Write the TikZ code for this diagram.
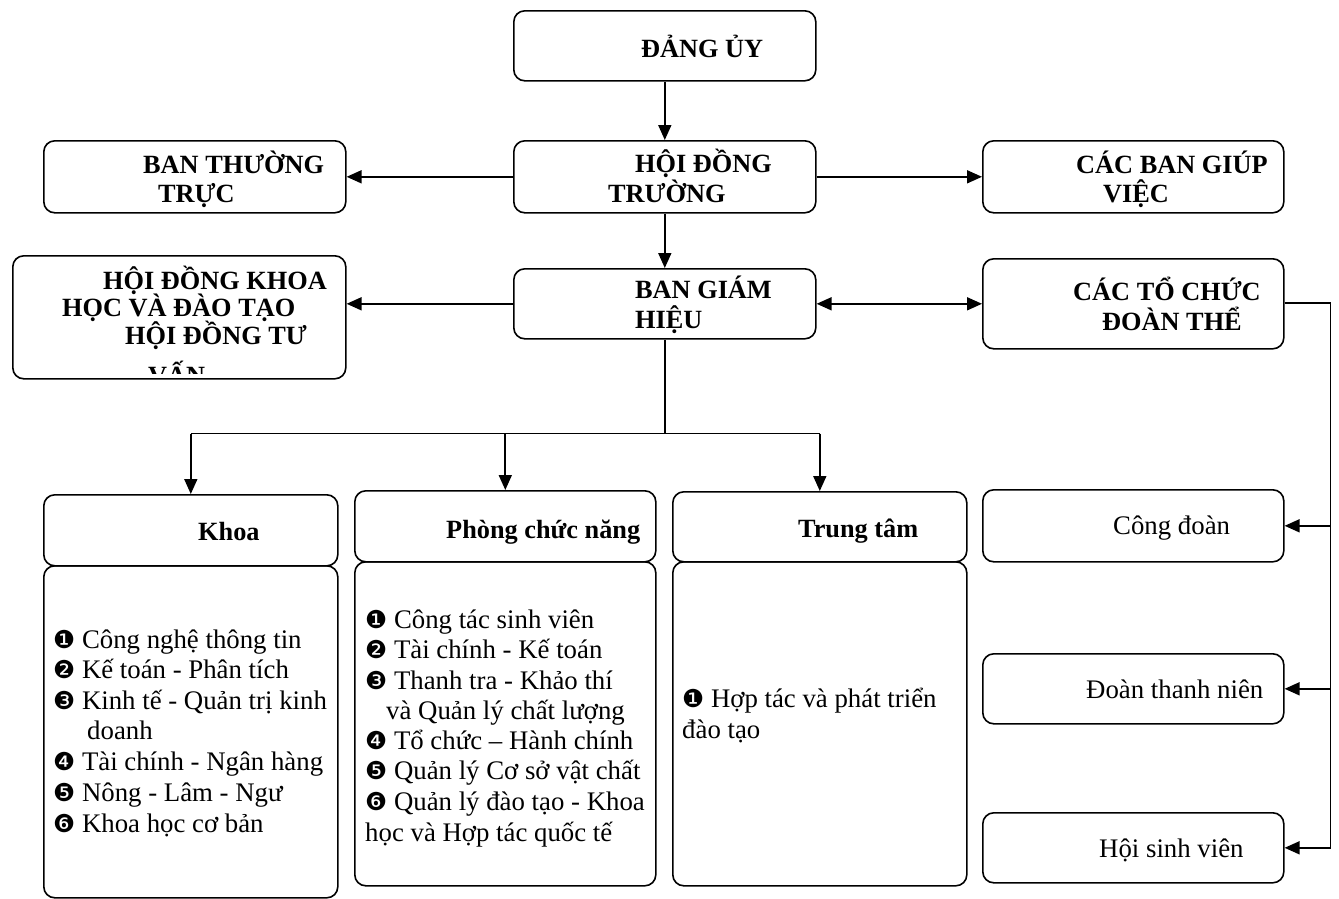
\documentclass[tikz,border=0pt]{standalone}
\usepackage{fontspec}
\setmainfont{Liberation Serif}
\newfontfamily\dingfont{DejaVu Sans}[Scale=0.92]
\usetikzlibrary{arrows.meta,calc}
\newcommand{\dg}[1]{{\dingfont #1}}
\begin{document}
\begin{tikzpicture}[x=1pt,y=-1pt,
  box/.style={draw, line width=1.6pt, rounded corners=11pt, inner sep=0pt, anchor=north west},
  hd/.style={anchor=base west, inner sep=0pt, font=\bfseries\fontsize{26.3}{30}\selectfont},
  txt/.style={anchor=base west, inner sep=0pt, font=\fontsize{26.8}{31}\selectfont},
  conn/.style={line width=1.7pt},
  arr/.style={line width=1.7pt, -{Triangle[length=15pt,width=13pt]}},
  arrs/.style={line width=1.7pt, {Triangle[length=15pt,width=13pt]}-{Triangle[length=15pt,width=13pt]}}]
\useasboundingbox (0,0) rectangle (1339,898);
% boxes
\node[box, minimum width=302pt, minimum height=70pt] (dang) at (513,10) {};
\node[box, minimum width=302pt, minimum height=72pt] (hdt) at (513,140) {};
\node[box, minimum width=302pt, minimum height=70pt] (bgh) at (513,268) {};
\node[box, minimum width=302pt, minimum height=72pt] (btt) at (43,140) {};
\node[box, minimum width=301pt, minimum height=72pt] (cbgv) at (982,140) {};
\node[box, minimum width=333pt, minimum height=123pt] (hdkh) at (12,255) {};
\node[box, minimum width=301pt, minimum height=90pt] (ctcdt) at (982,258) {};
\node[box, minimum width=294pt, minimum height=71pt] (khoaH) at (43,494) {};
\node[box, minimum width=294pt, minimum height=332pt] (khoaB) at (43,565) {};
\node[box, minimum width=301pt, minimum height=71pt] (phongH) at (354,490) {};
\node[box, minimum width=301pt, minimum height=324pt] (phongB) at (354,561) {};
\node[box, minimum width=294pt, minimum height=70pt] (ttH) at (672,491) {};
\node[box, minimum width=294pt, minimum height=324pt] (ttB) at (672,561) {};
\node[box, minimum width=301pt, minimum height=72pt] (cd) at (982,489) {};
\node[box, minimum width=301pt, minimum height=70pt] (dtn) at (982,653) {};
\node[box, minimum width=301pt, minimum height=70pt] (hsv) at (982,812) {};
% headings
\node[hd] (t1) at (641,57) {ĐẢNG ỦY};
\node[hd] (t2a) at (635,172) {HỘI ĐỒNG};
\node[hd] (t2b) at (608,202) {TRƯỜNG};
\node[hd] (t3a) at (635,298) {BAN GIÁM};
\node[hd] (t3b) at (635,328) {HIỆU};
\node[hd] (t4a) at (143,173) {BAN THƯỜNG};
\node[hd] (t4b) at (158,202) {TRỰC};
\node[hd] (t5a) at (1076,173) {CÁC BAN GIÚP};
\node[hd] (t5b) at (1103,202) {VIỆC};
\node[hd] (t6a) at (103,289) {HỘI ĐỒNG KHOA};
\node[hd] (t6b) at (62,316) {HỌC VÀ ĐÀO TẠO};
\node[hd] (t6c) at (125,344) {HỘI ĐỒNG TƯ};
\begin{scope}
\clip (12,255) rectangle (345,373);
\node[hd] (t6d) at (148,384) {VẤN};
\end{scope}
\node[hd] (t7a) at (1073,300) {CÁC TỔ CHỨC};
\node[hd] (t7b) at (1102,330) {ĐOÀN THỂ};
\node[hd] (t8) at (198,540) {Khoa};
\node[hd] (t9) at (446,538) {Phòng chức năng};
\node[hd] (t10) at (798,537) {Trung tâm};
\node[txt] (t11) at (1113,534) {Công đoàn};
\node[txt] (t12) at (1086,698) {Đoàn thanh niên};
\node[txt] (t13) at (1099,857) {Hội sinh viên};
% lists
\foreach \x/\y/\t [count=\i] in {
  53/648/{\dg{❶} Công nghệ thông tin},
  53/678/{\dg{❷} Kế toán - Phân tích},
  53/709/{\dg{❸} Kinh tế - Quản trị kinh},
  87/739/{doanh},
  53/770/{\dg{❹} Tài chính - Ngân hàng},
  53/801/{\dg{❺} Nông - Lâm - Ngư},
  53/832/{\dg{❻} Khoa học cơ bản}}
  \node[txt] (k\i) at (\x,\y) {\t};
\foreach \x/\y/\t [count=\i] in {
  365/628/{\dg{❶} Công tác sinh viên},
  365/658/{\dg{❷} Tài chính - Kế toán},
  365/689/{\dg{❸} Thanh tra - Khảo thí},
  386/719/{và Quản lý chất lượng},
  365/749/{\dg{❹} Tổ chức – Hành chính},
  365/779/{\dg{❺} Quản lý Cơ sở vật chất},
  365/810/{\dg{❻} Quản lý đào tạo - Khoa},
  365/841/{học và Hợp tác quốc tế}}
  \node[txt] (p\i) at (\x,\y) {\t};
\node[txt] (c1) at (682,707) {\dg{❶} Hợp tác và phát triển};
\node[txt] (c2) at (682,738) {đào tạo};
% connectors
\draw[arr] (dang.south) -- (hdt.north);
\draw[arr] (hdt.south) -- (bgh.north);
\draw[arr] (hdt.west) -- (hdt.west -| btt.east);
\draw[arr] (hdt.east) -- (hdt.east -| cbgv.west);
\draw[arr] (bgh.west) -- (bgh.west -| hdkh.east);
\draw[arrs] (bgh.east) -- (bgh.east -| ctcdt.west);
\coordinate (jn) at ($(bgh.south)+(0,94)$);
\draw[conn] (bgh.south) -- (jn);
\draw[conn] (khoaH.north |- jn) -- (ttH.north |- jn);
\draw[arr] (khoaH.north |- jn) -- (khoaH.north);
\draw[arr] (phongH.north |- jn) -- (phongH.north);
\draw[arr] (ttH.north |- jn) -- (ttH.north);
\coordinate (rj) at ($(ctcdt.east)+(46,-1)$);
\draw[conn] ($(ctcdt.east)+(0,-1)$) -- (rj) -- (rj |- hsv.east);
\draw[arr] (rj |- cd.east) -- (cd.east);
\draw[arr] (rj |- dtn.east) -- (dtn.east);
\draw[arr] (rj |- hsv.east) -- (hsv.east);
\end{tikzpicture}
\end{document}
